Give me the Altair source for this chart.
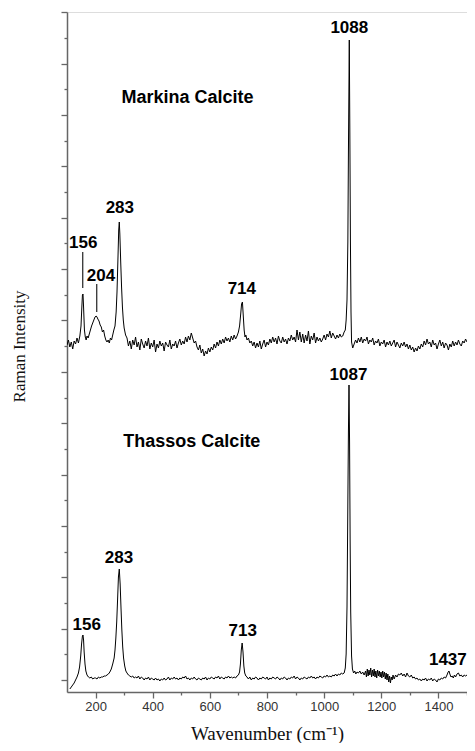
import altair as alt
import pandas as pd

# ---------------- data ----------------
# Markina calcite spectrum (wavenumber, intensity in arbitrary units)
markina_x = (
    list(range(100, 146, 5))
    + [149, 152, 154, 156, 158, 161, 164, 167, 170, 174, 178]
    + [182, 186, 190, 194, 198, 202, 205, 208, 212, 216, 220, 224, 228, 232, 236, 240, 244]
    + [248, 252, 256, 260, 264, 268, 272, 275, 278, 281, 283, 285, 288, 291, 294, 297, 300, 305]
    + list(range(310, 701, 5))
    + [704, 708, 711, 714, 717, 720, 723, 726]
    + list(range(730, 1071, 5))
    + [1074, 1077, 1080, 1083, 1085, 1088, 1090, 1092, 1094, 1096, 1100]
    + list(range(1105, 1501, 5))
)
markina_y = (
    [347, 352, 345, 350, 343, 351, 348, 354, 349, 356]
    + [366, 385, 397, 398, 385, 362, 355, 352, 356, 354, 358]
    + [362, 366, 369, 372, 375, 376, 375, 373, 371, 367, 365, 360, 362, 356, 352, 350, 352]
    + [349, 354, 352, 357, 362, 366, 380, 400, 430, 462, 470, 458, 430, 405, 385, 372, 364, 357]
    + [354, 346, 351, 343, 352, 347, 355, 345, 350, 342,
       353, 348, 344, 351, 346, 354, 343, 349, 345, 352,
       340, 348, 344, 351, 346, 349, 341, 350, 347, 345,
       352, 343, 348, 346, 351, 344, 349, 353, 347, 351,
       348, 355, 350, 356, 352, 359, 354, 349, 351, 345,
       342, 347, 339, 343, 336, 341, 338, 344, 340, 345,
       342, 348, 344, 350, 346, 352, 348, 353, 349, 355,
       351, 354, 350, 356, 352, 357, 353, 356, 360]
    + [366, 378, 388, 390, 376, 362, 355, 357]
    + [352, 354, 349, 351, 346, 350, 344, 349, 345, 351,
       343, 348, 352, 345, 350, 347, 353, 349, 355, 350,
       354, 348, 356, 351, 349, 355, 350, 353, 348, 354,
       351, 357, 352, 355, 350, 362, 352, 360, 350, 358,
       349, 357, 351, 361, 348, 356, 352, 359, 349, 355,
       351, 354, 350, 353, 357, 352, 358, 355, 361, 354,
       359, 356, 353, 357, 354, 358, 355, 356, 360]
    + [362, 372, 392, 450, 540, 652, 560, 450, 380, 350, 344]
    + [348, 352, 349, 354, 350, 355, 349, 353, 351, 355,
       348, 352, 350, 354, 347, 351, 349, 353, 346, 350,
       348, 352, 345, 350, 347, 351, 346, 349, 352, 345,
       350, 347, 344, 349, 346, 350, 345, 348, 343, 347,
       342, 345, 340, 344, 341, 346, 343, 348, 345, 351,
       347, 353, 348, 350, 345, 352, 347, 349, 343, 348,
       352, 346, 350, 344, 349, 347, 342, 348, 345, 351,
       346, 350, 347, 352, 348, 346, 351, 349, 353, 350]
)

# Thassos calcite spectrum
thassos_x = (
    [110, 115, 120, 125, 130, 135, 140, 144, 148, 151, 154, 156, 158, 160, 163, 166, 170, 175, 180]
    + list(range(185, 266, 5))
    + [268, 271, 274, 277, 280, 283, 286, 289, 292, 295, 298, 302, 306]
    + list(range(310, 701, 5))
    + [704, 707, 710, 713, 716, 719, 722, 726]
    + list(range(730, 1071, 5))
    + [1074, 1077, 1080, 1083, 1085, 1087, 1089, 1091, 1093, 1096, 1099, 1103]
    + [1107, 1111, 1115, 1120, 1125, 1130, 1135, 1140, 1145]
    + list(range(1148, 1242, 3))
    + list(range(1245, 1431, 5))
    + [1434, 1437, 1440, 1444, 1448, 1452, 1456, 1460]
    + list(range(1465, 1501, 5))
)
thassos_y = (
    [3, 5, 7, 9, 12, 15, 19, 25, 36, 48, 56, 57, 52, 40, 28, 21, 17, 15, 14]
    + [15, 13, 14, 14, 13, 15, 14, 15, 15, 16, 16, 17, 18, 20, 23, 28, 34]
    + [42, 54, 70, 92, 115, 123, 108, 84, 62, 45, 34, 26, 21]
    + [19, 17, 16, 15, 16, 14, 15, 14, 16, 13,
       15, 14, 12, 14, 13, 15, 12, 14, 13, 12,
       14, 12, 13, 11, 13, 12, 14, 12, 13, 15,
       12, 14, 13, 15, 13, 14, 12, 14, 13, 15,
       14, 16, 13, 14, 12, 14, 13, 15, 13, 12,
       14, 13, 12, 14, 13, 15, 12, 14, 13, 15,
       14, 13, 15, 14, 16, 13, 15, 14, 13, 15,
       14, 16, 14, 15, 14, 15, 14, 16, 17]
    + [20, 28, 42, 49, 40, 26, 19, 16]
    + [15, 13, 15, 12, 14, 13, 15, 14, 12, 14,
       13, 15, 14, 13, 15, 12, 14, 13, 15, 14,
       13, 15, 14, 12, 14, 13, 15, 14, 12, 14,
       13, 15, 14, 16, 13, 15, 14, 12, 14, 13,
       15, 14, 13, 15, 14, 16, 14, 15, 13, 15,
       14, 16, 15, 14, 16, 15, 17, 15, 16, 15,
       17, 16, 18, 16, 18, 17, 19, 18, 19]
    + [24, 38, 85, 190, 260, 307, 250, 150, 80, 36, 23, 19]
    + [21, 18, 20, 19, 21, 18, 20, 17, 21]
    + [15, 23, 16, 22, 17, 24, 15, 22, 16, 23,
       15, 21, 14, 22, 16, 21, 15, 20, 14, 21,
       15, 20, 13, 19, 12, 18, 10, 16, 9, 15,
       12, 17]
    + [13, 17, 15, 18, 17, 19, 16, 18, 15, 19,
       16, 15, 17, 14, 15, 13, 14, 12, 13, 11,
       13, 12, 14, 11, 13, 12, 14, 11, 13, 12,
       10, 13, 12, 14, 13, 15, 14, 17]
    + [20, 21, 18, 15, 16, 14, 17, 15]
    + [18, 19, 16, 17, 15, 17, 16, 17]
)

# peak annotations
label_text = ["1088", "Markina Calcite", "283", "156", "204", "714",
              "1087", "Thassos Calcite", "283", "156", "713", "1437"]
label_x = [1088, 522, 285, 157, 219, 712, 1085, 537, 282, 169, 715, 1433]
label_y = [659, 589, 479, 444, 411, 398, 312, 245, 129, 62, 56, 27]
label_size = [17, 18, 17, 17, 17, 17, 17, 18, 17, 17, 17, 17]

# leader lines (Markina 156 and 204)
leader_x = [155, 204]
leader_y = [404, 380]
leader_y2 = [440, 408]

assert len(markina_x) == len(markina_y)
assert len(thassos_x) == len(thassos_y)

spec = pd.concat([
    pd.DataFrame({"x": markina_x, "y": markina_y, "series": "Markina"}),
    pd.DataFrame({"x": thassos_x, "y": thassos_y, "series": "Thassos"}),
])
labels = pd.DataFrame({"x": label_x, "y": label_y, "text": label_text, "size": label_size})
leaders = pd.DataFrame({"x": leader_x, "y": leader_y, "y2": leader_y2})

# ---------------- axes ----------------
axis_col = "#666666"
y_ticks = [12 + 25.68 * k for k in range(27)]

x_axis = alt.Axis(
    values=list(range(200, 1501, 100)),
    labelExpr="datum.value % 200 === 0 ? datum.label : ''",
    tickSize={"condition": {"test": "datum.value % 200 === 0", "value": 6}, "value": 3},
    grid=False,
    format="d",
    title="Wavenumber (cm⁻¹)",
    titleFont="Liberation Serif",
    titleFontSize=19,
    titleFontWeight="normal",
    titleColor="#111111",
    titleX=200,
    titleY=47,
    titleAlign="center",
    titleBaseline="alphabetic",
    labelFont="Liberation Sans",
    labelFontSize=13,
    labelColor="#333333",
    labelPadding=2,
    domainColor=axis_col,
    domainWidth=1.5,
    tickColor=axis_col,
    tickWidth=1.3,
)
y_axis = alt.Axis(
    values=y_ticks,
    labels=False,
    tickSize={"condition": {"test": "round((datum.value - 12) / 25.68) % 2 === 0", "value": 6}, "value": 3},
    grid=False,
    title="Raman Intensity",
    titleFont="Liberation Serif",
    titleFontSize=17,
    titleFontWeight="normal",
    titleColor="#111111",
    titleAngle=270,
    titleX=-48,
    titleY=334,
    titleAlign="center",
    titleBaseline="middle",
    domainColor=axis_col,
    domainWidth=1.5,
    tickColor=axis_col,
    tickWidth=1.3,
)

X = alt.X("x:Q", scale=alt.Scale(domain=[100, 1500], nice=False, zero=False), axis=x_axis)
Y = alt.Y("y:Q", scale=alt.Scale(domain=[0, 680], nice=False, zero=False), axis=y_axis)

lines = alt.Chart(spec).mark_line(color="black", strokeWidth=1, clip=True).encode(
    x=X, y=Y, detail="series:N"
)
rules = alt.Chart(leaders).mark_rule(color="#333333", strokeWidth=1.3).encode(
    x=X, y=Y, y2="y2:Q"
)
texts = alt.Chart(labels).mark_text(
    font="Liberation Sans", fontWeight="bold", color="black",
    align="center", baseline="alphabetic"
).encode(
    x=X, y=Y, text="text:N",
    size=alt.Size("size:Q", scale=None, legend=None),
)

chart = alt.layer(lines, rules, texts).properties(
    width=400,
    height=680,
    padding={"left": 59, "top": 4, "right": 0, "bottom": 51},
    autosize=alt.AutoSizeParams(type="none"),
).configure_view(strokeWidth=0).configure(background="white")

chart.save("out.html", embed_options={"renderer": "svg", "actions": False})
